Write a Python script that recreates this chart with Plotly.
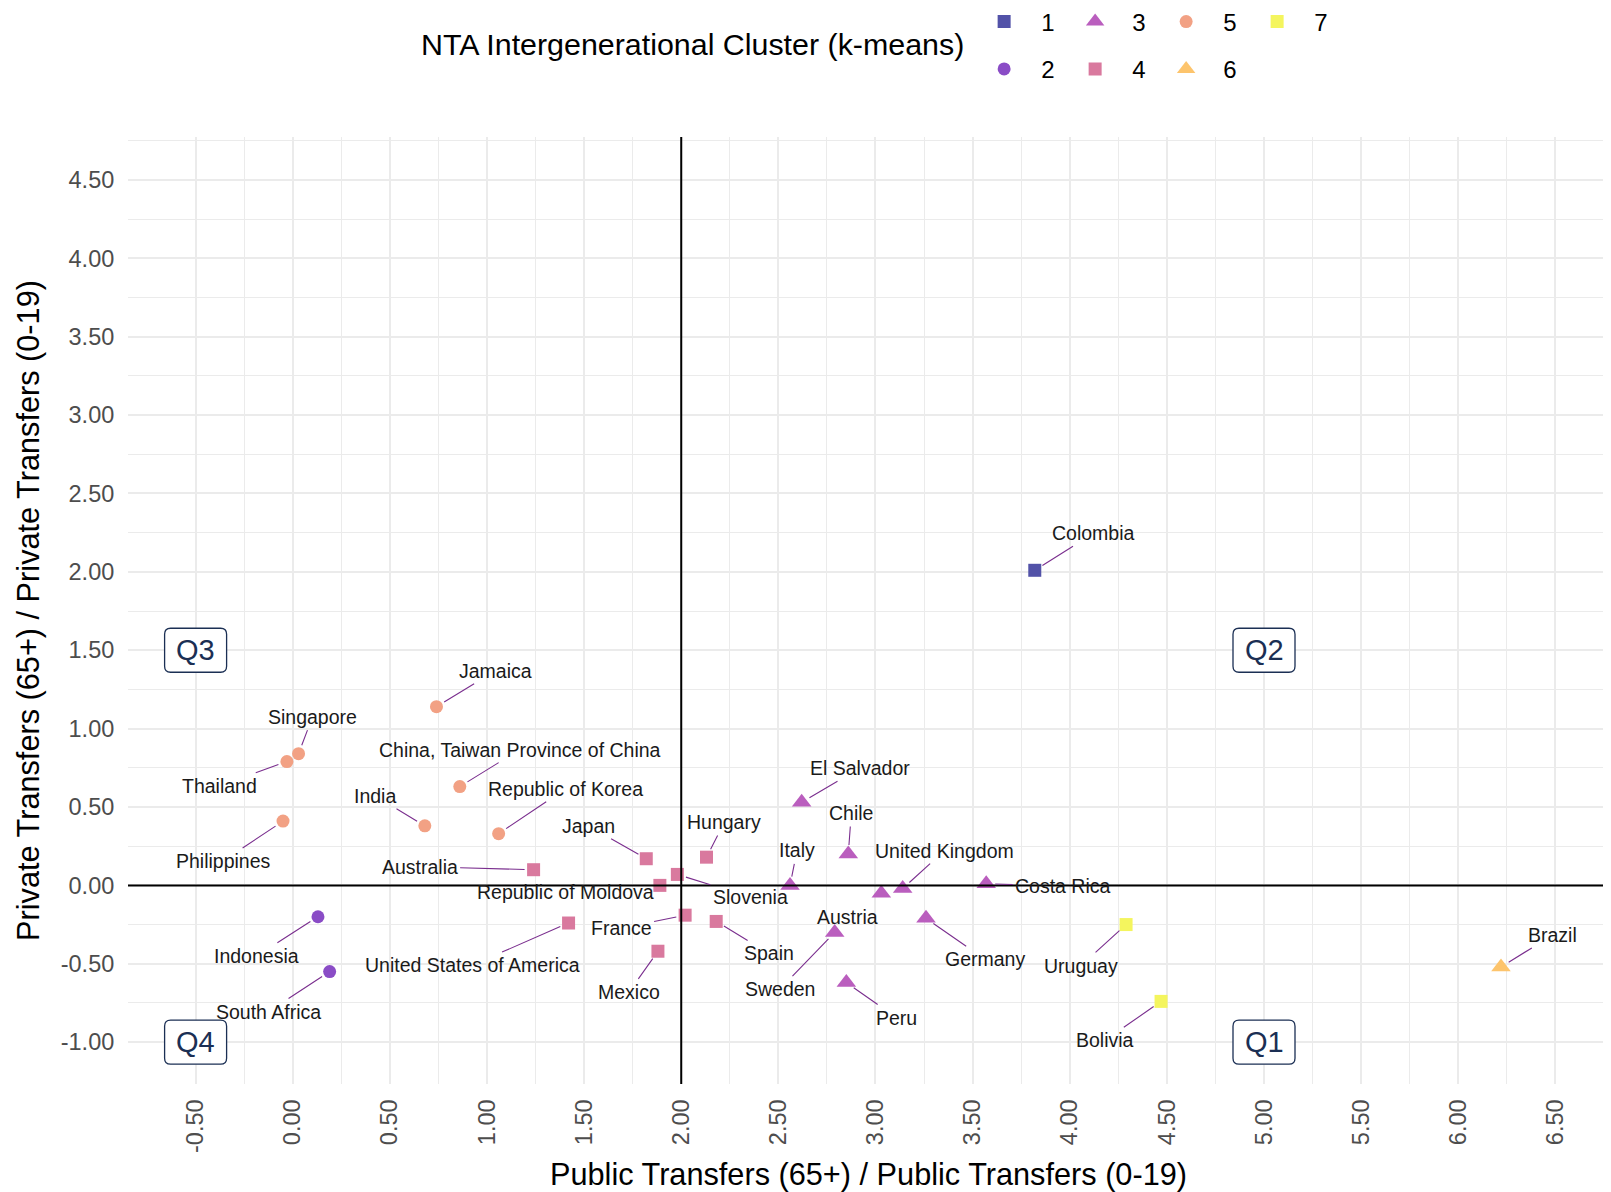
import numpy as np
import plotly.graph_objects as go

# NTA ratios per country
countries = [
    "Colombia",
    "Indonesia", "South Africa",
    "El Salvador", "Chile", "Italy", "United Kingdom", "Austria", "Costa Rica",
    "Germany", "Sweden", "Peru",
    "Australia", "Japan", "Hungary", "Slovenia", "Republic of Moldova", "France",
    "Spain", "United States of America", "Mexico",
    "Jamaica", "Singapore", "Thailand", "Philippines",
    "China, Taiwan Province of China", "India", "Republic of Korea",
    "Brazil",
    "Uruguay", "Bolivia",
]
public_ratio = [
    3.82,
    0.13, 0.19,
    2.62, 2.86, 2.56, 3.14, 3.03, 3.57,
    3.26, 2.79, 2.85,
    1.24, 1.82, 2.13, 1.98, 1.89, 2.02,
    2.18, 1.42, 1.88,
    0.74, 0.03, -0.03, -0.05,
    0.86, 0.68, 1.06,
    6.22,
    4.29, 4.47,
]
private_ratio = [
    2.01,
    -0.20, -0.55,
    0.53, 0.20, 0.00, -0.02, -0.05, 0.01,
    -0.21, -0.30, -0.62,
    0.10, 0.17, 0.18, 0.07, 0.00, -0.19,
    -0.23, -0.24, -0.42,
    1.14, 0.84, 0.79, 0.41,
    0.63, 0.38, 0.33,
    -0.52,
    -0.25, -0.74,
]
cluster = [
    1,
    2, 2,
    3, 3, 3, 3, 3, 3, 3, 3, 3,
    4, 4, 4, 4, 4, 4, 4, 4, 4,
    5, 5, 5, 5, 5, 5, 5,
    6,
    7, 7,
]

cluster_ids = [1, 2, 3, 4, 5, 6, 7]
x_ticks = np.arange(-0.5, 6.51, 0.5)
y_ticks = np.arange(-1.0, 4.51, 0.5)

quadrants = ["Q1", "Q2", "Q3", "Q4"]
quadrant_x = [5.0, 5.0, -0.5, -0.5]
quadrant_y = [-1.0, 1.5, 1.5, -1.0]

colors = {1: "#5252A8", 2: "#8A4CC6", 3: "#BA5EBE", 4: "#D9799E",
          5: "#F2A184", 6: "#FDC46C", 7: "#F4F55E"}
symbols = {1: "square", 2: "circle", 3: "triangle-up", 4: "square",
           5: "circle", 6: "triangle-up", 7: "square"}
sizes = {"square": 13, "circle": 13, "triangle-up": 17}

# repel-style label placement, pixel offset of text centre from the point
label_offsets = {
    "Colombia": (59, -37), "Brazil": (52, -32), "Bolivia": (-56, 39),
    "Uruguay": (-45, 41), "Costa Rica": (77, 2), "Germany": (59, 41),
    "United Kingdom": (42, -38), "Austria": (-34, 24), "Sweden": (-55, 57),
    "Peru": (50, 35), "Chile": (3, -41), "El Salvador": (58, -34),
    "Italy": (7, -35), "Hungary": (18, -35), "Japan": (-58, -33),
    "Slovenia": (73, 23), "Republic of Moldova": (-94, 7), "France": (-64, 13),
    "Spain": (53, 32), "Mexico": (-29, 41), "United States of America": (-96, 42),
    "Australia": (-114, -3), "Republic of Korea": (67, -45), "India": (-50, -30),
    "China, Taiwan Province of China": (60, -37), "Jamaica": (59, -36),
    "Singapore": (14, -37), "Thailand": (-67, 24), "Philippines": (-60, 40),
    "Indonesia": (-61, 39), "South Africa": (-61, 40),
}
no_segment = {"Austria"}

FONT = "Liberation Sans, Arial, sans-serif"
SEGMENT = "#7A2E8E"
NAVY = "#1B2F54"


def rounded_box(w, h, r):
    # path in pixels around the anchor point, with rounded corners
    x0, x1, y0, y1 = -w / 2, w / 2, -h / 2, h / 2
    return (
        f"M{x0 + r},{y0} L{x1 - r},{y0} Q{x1},{y0} {x1},{y0 + r} "
        f"L{x1},{y1 - r} Q{x1},{y1} {x1 - r},{y1} L{x0 + r},{y1} "
        f"Q{x0},{y1} {x0},{y1 - r} L{x0},{y0 + r} Q{x0},{y0} {x0 + r},{y0} Z"
    )


fig = go.Figure()
for k in cluster_ids:
    idx = [i for i, c in enumerate(cluster) if c == k]
    sym = symbols[k]
    fig.add_trace(
        go.Scatter(
            x=[public_ratio[i] for i in idx],
            y=[private_ratio[i] for i in idx],
            text=[countries[i] for i in idx],
            mode="markers",
            name=str(k),
            legend="legend" if k % 2 == 1 else "legend2",
            marker=dict(symbol=sym, size=sizes[sym], color=colors[k], line=dict(width=0)),
            hoverinfo="text",
        )
    )

for name, px_, py_ in zip(countries, public_ratio, private_ratio):
    dx, dy = label_offsets[name]
    fig.add_annotation(
        x=px_, y=py_, text=name, showarrow=True, ax=dx, ay=dy,
        arrowhead=0, arrowwidth=1.1,
        arrowcolor="rgba(0,0,0,0)" if name in no_segment else SEGMENT,
        standoff=9, startstandoff=1,
        font=dict(family=FONT, size=19.5, color="#1a1a1a"),
    )

fig.add_vline(x=2.0, line=dict(color="black", width=2))
fig.add_hline(y=0.0, line=dict(color="black", width=2))

for q, qx, qy in zip(quadrants, quadrant_x, quadrant_y):
    fig.add_shape(
        type="path", xref="x", yref="y", xsizemode="pixel", ysizemode="pixel",
        xanchor=qx, yanchor=qy, path=rounded_box(62, 44, 6),
        line=dict(color=NAVY, width=1.3), fillcolor="white", layer="above",
    )
    fig.add_annotation(
        x=qx, y=qy, text=q, showarrow=False,
        font=dict(family=FONT, size=29, color=NAVY),
    )

fig.add_annotation(
    xref="paper", yref="paper", x=0.381, y=1.098, xanchor="center", yanchor="middle",
    text="NTA Intergenerational Cluster (k-means)", showarrow=False,
    font=dict(family=FONT, size=30.4, color="black"),
)

grid = "#EBEBEB"
fig.update_xaxes(
    range=[-0.848, 6.776], tickmode="array", tickvals=x_ticks,
    ticktext=[f"{v:.2f}" for v in x_ticks], tickangle=-90,
    tickfont=dict(family=FONT, size=23.5, color="#4D4D4D"),
    showgrid=True, gridcolor=grid, gridwidth=1.6, zeroline=False, showline=False,
    ticks="outside", ticklen=5, tickcolor="rgba(0,0,0,0)", automargin=False,
    minor=dict(tickvals=x_ticks + 0.25, showgrid=True, gridcolor=grid, gridwidth=1),
    title=dict(text="Public Transfers (65+) / Public Transfers (0-19)", standoff=12,
               font=dict(family=FONT, size=30.7, color="black")),
)
fig.update_yaxes(
    range=[-1.267, 4.774], tickmode="array", tickvals=y_ticks,
    ticktext=[f"{v:.2f}" for v in y_ticks],
    tickfont=dict(family=FONT, size=23.5, color="#4D4D4D"),
    showgrid=True, gridcolor=grid, gridwidth=1.6, zeroline=False, showline=False,
    ticks="outside", ticklen=8, tickcolor="rgba(0,0,0,0)", automargin=False,
    minor=dict(tickvals=y_ticks + 0.25, showgrid=True, gridcolor=grid, gridwidth=1),
    title=dict(text="Private Transfers (65+) / Private Transfers (0-19)", standoff=11,
               font=dict(family=FONT, size=30.7, color="black")),
)

legend_style = dict(
    orientation="h", xanchor="left", yanchor="middle", x=0.5666,
    font=dict(family=FONT, size=24, color="black"),
    itemwidth=64, entrywidth=12, entrywidthmode="pixels",
    bgcolor="rgba(0,0,0,0)", tracegroupgap=0,
)
# the page body keeps its default 8px margin, so the figure is 8px smaller
fig.update_layout(
    width=1603, height=1184,
    margin=dict(l=120, r=2, t=129, b=108, autoexpand=False),
    plot_bgcolor="white", paper_bgcolor="white",
    legend=dict(legend_style, y=1.1215),
    legend2=dict(legend_style, y=1.0715),
    font=dict(family=FONT),
)

fig.write_html("out.html")
